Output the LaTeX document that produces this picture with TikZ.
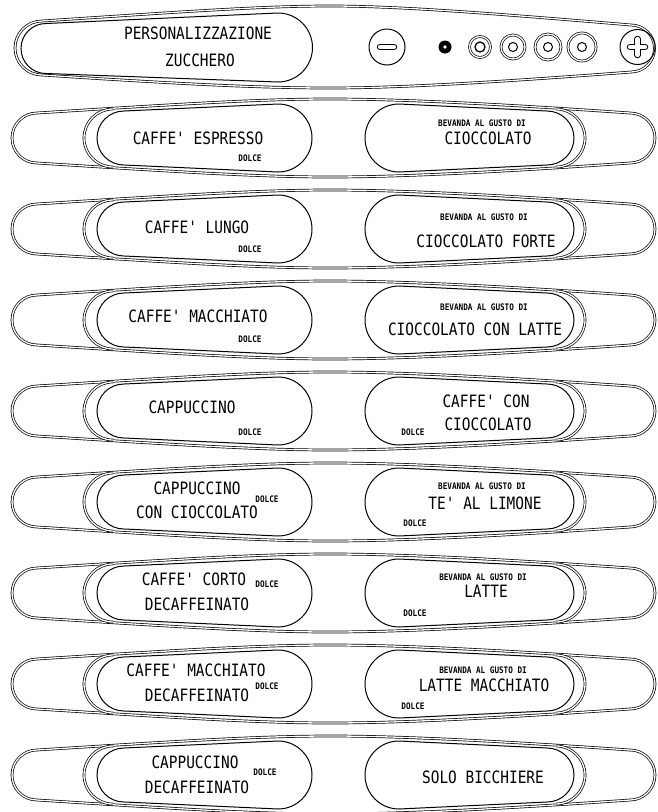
\documentclass[tikz,border=0pt]{standalone}
\usepackage{fontspec}
\newfontfamily\panelfont[FakeStretch=0.85,Ligatures=TeXOff]{DejaVu Sans Mono}
\usetikzlibrary{positioning}

\begin{document}
\begin{tikzpicture}[x=1pt,y=-1pt,
    rim/.style={line width=0.7pt,double,double distance=1.3pt},
    edge/.style={line width=1pt},
    caption/.style={font=\panelfont\fontsize{17}{20}\selectfont,inner sep=0pt},
    tag/.style={font=\panelfont\bfseries\fontsize{9}{9}\selectfont,inner sep=0pt}]

    \useasboundingbox (0,0) rectangle (657,812);
    \fill[white] (0,0) rectangle (657,812);

    % sugar panel
    \draw[rim] (42,21) .. controls (180,12) and (260,6) .. (330,6)
        .. controls (400,6) and (500,14) .. (631,25) arc(-90:90:23.5)
        .. controls (500,82) and (400,88) .. (330,88)
        .. controls (260,88) and (180,84) .. (42,75) arc(90:270:27) -- cycle;
    \draw[edge] (46,23.5) -- (278,13) arc(-90:90:34.5) -- (46,73.5) arc(90:270:25) -- cycle;
    \draw[edge] (387,47) circle (18);
    \draw[line width=6.5pt,line cap=round] (380,47) -- (394,47);
    \draw[white,line width=4.3pt,line cap=round] (380,47) -- (394,47);
    \fill (445,47) circle (6.5);
    \fill[white] (445,47) circle (1.8);
    \draw[rim] (480,47) circle (10.5);
    \draw[line width=1.3pt] (480,47) circle (5);
    \foreach \x/\r in {513/12,548/13,582/14} {
        \draw[rim] (\x,47) circle (\r);
        \draw[edge] (\x,47) circle (4.5);
    }
    \draw[edge] (637.5,47) circle (17.5);
    \draw[line width=6.5pt,line cap=round] (630,47) -- (645,47) (637.5,39) -- (637.5,55);
    \draw[white,line width=4.3pt,line cap=round] (630,47) -- (645,47) (637.5,39) -- (637.5,55);

    % drink panels
    \foreach \yc in {138,229,320,411,502,593,684,775} {
        \draw[rim] (37,\yc-25) .. controls (180,\yc-34) and (260,\yc-39) .. (330,\yc-39)
            .. controls (400,\yc-39) and (500,\yc-34) .. (630,\yc-25) arc(-90:90:25)
            .. controls (500,\yc+34) and (400,\yc+39) .. (330,\yc+39)
            .. controls (260,\yc+39) and (180,\yc+34) .. (37,\yc+25) arc(90:270:25) -- cycle;
        \draw[rim] (113,\yc-29) arc(270:90:29);
        \draw[edge] (124,\yc-27) -- (278,\yc-34) arc(-90:90:34) -- (124,\yc+27) arc(90:270:27) -- cycle;
        \draw[rim] (556,\yc-29) arc(-90:90:29);
        \draw[edge] (399,\yc-34) -- (547,\yc-27) arc(-90:90:27) -- (399,\yc+34) arc(90:270:34) -- cycle;
    }

    \node[caption] (personal) at (198,33) {PERSONALIZZAZIONE};
    \node[caption] (zucchero) at (200,60) {ZUCCHERO};

    \node[caption] (espresso) at (198,138) {CAFFE' ESPRESSO};
    \node[tag] (dolce2) at (250,158) {DOLCE};
    \node[tag] (bev2) at (482,123) {BEVANDA AL GUSTO DI};
    \node[caption] (cioc2) at (488,138) {CIOCCOLATO};

    \node[caption] (lungo) at (197,227) {CAFFE' LUNGO};
    \node[tag] (dolce3) at (250,249) {DOLCE};
    \node[tag] (bev3) at (484,217) {BEVANDA AL GUSTO DI};
    \node[caption] (forte) at (486,241) {CIOCCOLATO FORTE};

    \node[caption] (macch) at (198,316) {CAFFE' MACCHIATO};
    \node[tag] (dolce4) at (250,339) {DOLCE};
    \node[tag] (bev4) at (484,307) {BEVANDA AL GUSTO DI};
    \node[caption] (conlatte) at (475,329) {CIOCCOLATO CON LATTE};

    \node[caption] (capp) at (192,407) {CAPPUCCINO};
    \node[tag] (dolce5) at (250,432) {DOLCE};
    \node[caption] (caffecon) at (486,401) {CAFFE' CON};
    \node[caption] (cioc5) at (488,424) {CIOCCOLATO};
    \node[tag] (dolce5r) at (413,432) {DOLCE};

    \node[caption] (capp6) at (197,488) {CAPPUCCINO};
    \node[caption] (concioc) at (197,512) {CON CIOCCOLATO};
    \node[tag] (dolce6) at (267,499) {DOLCE};
    \node[tag] (bev6) at (482,486) {BEVANDA AL GUSTO DI};
    \node[caption] (limone) at (485,503) {TE' AL LIMONE};
    \node[tag] (dolce6r) at (415,523) {DOLCE};

    \node[caption] (corto) at (194,579) {CAFFE' CORTO};
    \node[caption] (decaf7) at (197,604) {DECAFFEINATO};
    \node[tag] (dolce7) at (267,584) {DOLCE};
    \node[tag] (bev7) at (483,577) {BEVANDA AL GUSTO DI};
    \node[caption] (latte) at (486,591) {LATTE};
    \node[tag] (dolce7r) at (415,613) {DOLCE};

    \node[caption] (macch8) at (196,670) {CAFFE' MACCHIATO};
    \node[caption] (decaf8) at (197,695) {DECAFFEINATO};
    \node[tag] (dolce8) at (267,686) {DOLCE};
    \node[tag] (bev8) at (483,670) {BEVANDA AL GUSTO DI};
    \node[caption] (lmacch) at (484,685) {LATTE MACCHIATO};
    \node[tag] (dolce8r) at (413,706) {DOLCE};

    \node[caption] (capp9) at (195,762) {CAPPUCCINO};
    \node[caption] (decaf9) at (197,787) {DECAFFEINATO};
    \node[tag] (dolce9) at (265,772) {DOLCE};
    \node[caption] (bicchiere) at (483,777) {SOLO BICCHIERE};
\end{tikzpicture}
\end{document}
